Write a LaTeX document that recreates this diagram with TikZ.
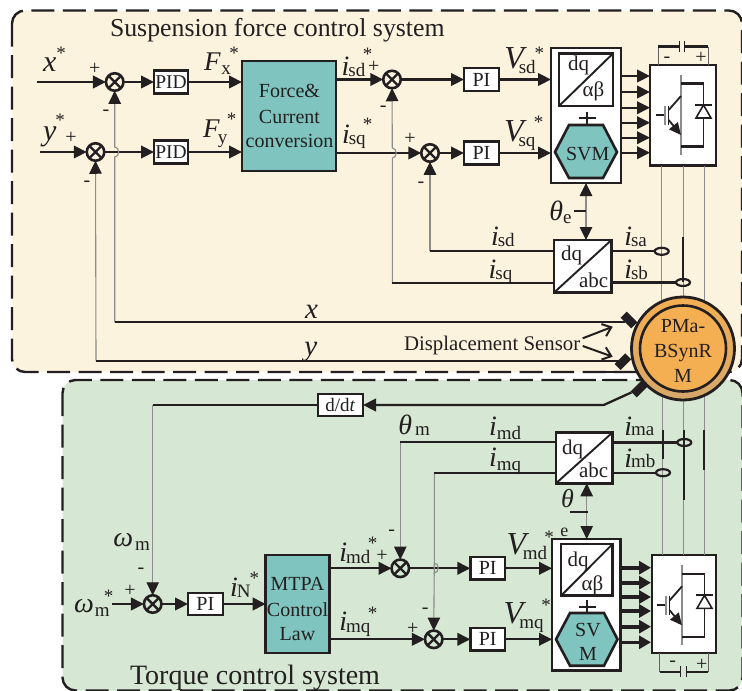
\documentclass[tikz,border=0pt]{standalone}
\usepackage{fontspec}
\setmainfont{Liberation Serif}
\usetikzlibrary{arrows.meta,shapes.geometric}
\definecolor{ink}{HTML}{231F20}
\definecolor{cream}{HTML}{FBF3DE}
\definecolor{sage}{HTML}{D6E7D3}
\definecolor{teal}{HTML}{7FC4BE}
\definecolor{orng}{HTML}{F4AF52}
\definecolor{tan}{HTML}{D6A76A}
\definecolor{wire}{HTML}{8C8C8C}
\tikzset{
 panel/.style={draw=ink,line width=2.4pt,rounded corners=13pt,dash pattern=on 23pt off 8.5pt},
 blk/.style={draw=ink,line width=2.4pt,fill=white,inner sep=0pt,outer sep=0pt,text=ink},
 tealblk/.style={blk,fill=teal,line width=2.7pt},
 sumn/.style={circle,draw=ink,line width=2.6pt,minimum size=17.5pt,inner sep=0pt,outer sep=0pt,fill=none,
   path picture={\draw[ink,line width=2.4pt] (path picture bounding box.north west)--(path picture bounding box.south east)
     (path picture bounding box.north east)--(path picture bounding box.south west);}},
 sig/.style={draw=ink,line width=2.3pt,-{Triangle[length=13pt,width=12.5pt,color=ink]}},
 fat/.style={draw=ink,line width=3.6pt,-{Triangle[length=12pt,width=13pt,color=ink]}},
 ln/.style={draw=ink,line width=2.3pt},
 thinw/.style={draw=wire,line width=1pt},
 fb/.style={draw=wire,line width=1.1pt,-{Triangle[length=13pt,width=12.5pt,color=ink]}},
 barb/.style={draw=ink,line width=2pt,-{Straight Barb[length=8pt,width=13pt]}},
 lb/.style={anchor=base west,inner sep=0pt,outer sep=0pt,text=ink},
 ctr/.style={anchor=base,inner sep=0pt,outer sep=0pt,text=ink},
 ringn/.style={ellipse,draw=ink,line width=2.2pt,minimum width=14pt,minimum height=7pt,inner sep=0pt,outer sep=0pt},
 sensor/.style={fill=ink,minimum width=15pt,minimum height=8.5pt,inner sep=0pt},
 box20/.style={font=\fontsize{20}{20}\selectfont},
 box19/.style={font=\fontsize{19.5}{19.5}\selectfont},
}
% name, x, y(baseline), main size, main, gap, drop, sub
\newcommand{\lbl}[8]{\node[lb] (#1) at (#2,#3) {\fontsize{#4}{#4}\selectfont\itshape #5\upshape\hspace{#6pt}\raisebox{-#7pt}{\fontsize{19}{19}\selectfont #8}};}
\newcommand{\stn}[3]{\node[ctr,font=\fontsize{19}{19}\selectfont] (#1) at ([yshift=-9pt]#2,#3) {*};}
\newcommand{\pln}[3]{\node[ctr,font=\fontsize{20}{20}\selectfont] (#1) at ([yshift=-5pt]#2,#3) {+};}
\newcommand{\mnn}[3]{\node[ctr,font=\fontsize{20}{20}\selectfont] (#1) at ([yshift=-4.4pt]#2,#3) {-};}
\newcommand{\txt}[5]{\node[lb,font=\fontsize{#4}{#4}\selectfont] (#1) at (#2,#3) {#5};}
\newcommand{\igbt}{%
 \draw[draw=wire,line width=1.4pt] (681,75)--(681,155);
 \draw[ink,line width=2.2pt] (681,83.5)--(703.7,83.5) (681,146.5)--(703.7,146.5);
 \draw[ink,line width=1pt] (703.7,83.5)--(703.7,146.5);
 \draw[ink,line width=2.2pt] (656,115)--(664,115);
 \draw[draw=wire,line width=1.2pt] (665,106)--(665,125);
 \draw[ink,line width=1.4pt] (668.7,106)--(668.7,125);
 \draw[ink,line width=1.8pt] (668.7,110)--(681,96);
 \draw[ink,line width=1.8pt,-{Triangle[length=12pt,width=11pt,color=ink]}] (668.7,120)--(681,135);
 \draw[ink,line width=1.6pt,fill=white] (696,118)--(711,118)--(703.5,105)--cycle;
 \draw[ink,line width=2.2pt] (695,105)--(712,105);
}
\begin{document}
\begin{tikzpicture}[x=1pt,y=-1pt]
\useasboundingbox (0,0) rectangle (742,691);
\fill[white] (0,0) rectangle (742,691);
% panels
\path[panel,fill=cream] (12,10.5) rectangle (742,372);
\path[panel,fill=sage] (62.5,380) rectangle (742.5,690.5);
\draw[ink,line width=2.4pt] (601,372)--(640,372) (602,380)--(622,380);

% ---------- upper system blocks
\node[sumn] (sx) at (114.7,82) {};
\node[sumn] (sy) at (95.5,152) {};
\node[sumn] (ssd) at (392,79.5) {};
\node[sumn] (ssq) at (430,153) {};
\node[blk,box19,minimum width=34pt,minimum height=23pt] (pidx) at (171,82) {PID};
\node[blk,box19,minimum width=34pt,minimum height=23pt] (pidy) at (171,152) {PID};
\node[tealblk,minimum width=94pt,minimum height=110pt] (force) at (289,116) {};
\node[blk,box20,minimum width=35pt,minimum height=23pt] (pisd) at (481.5,79.5) {PI};
\node[blk,box20,minimum width=35pt,minimum height=23pt] (pisq) at (481.5,153) {PI};
\node[blk,line width=2.8pt,minimum width=70pt,minimum height=135pt] (bigS) at (586,115.5) {};
\node[blk,line width=2.8pt,minimum width=54pt,minimum height=52.5pt] (dqS) at (586,79.75) {};
\draw[ink,line width=1.9pt] (dqS.south west)--(dqS.north east);
\node[blk,minimum width=66pt,minimum height=100.5pt] (invS) at (683,115.25) {};
\node[blk,line width=2.8pt,minimum width=57.5pt,minimum height=52.6pt] (abcS) at (582.75,266.3) {};
\draw[ink,line width=1.9pt] (abcS.south west)--(abcS.north east);
\draw[ink,line width=2.6pt,fill=teal] (555,152)--(569,125)--(603,125)--(617,152)--(603,178)--(569,178)--cycle;
\begin{scope}\igbt\end{scope}

\coordinate (inx) at (37,82);
\coordinate (iny) at (40,152);
\draw[sig] (inx)--(sx);
\draw[sig] (iny)--(sy);
\draw[sig] (sx)--(pidx);
\draw[sig] (sy)--(pidy);
\draw[sig] (pidx)--(force.west|-pidx);
\draw[sig] (pidy)--(force.west|-pidy);
\draw[sig] (force.east|-ssd)--(ssd);
\draw[sig] (force.east|-ssq)--(ssq);
\draw[sig] (ssd)--(pisd);
\draw[sig] (ssq)--(pisq);
\draw[sig] (pisd)--(bigS.west|-pisd);
\draw[sig] (pisq)--(bigS.west|-pisq);
\foreach \yy in {76,92,107.7,122.7,137.7,152.7}
  \draw[sig] (621,\yy)--(650,\yy);
% dq to hexagon link
\coordinate (lnkS) at (587,125);
\draw[ink,line width=2.2pt] (587,112)--(lnkS) (579,118)--(596,118);

% feedback
\coordinate (xl) at (114.7,322.3);
\coordinate (yl) at (96,360.7);
\coordinate (sdl) at (430,251.3);
\coordinate (sql) at (392.3,283);
\draw[fb] (yl)--(sy);
\draw[fb] (xl)--(114.7,157) .. controls (120,157) and (120,147) .. (114.7,147)--(sx);
\draw[fb] (sdl)--(ssq);
\draw[fb] (sql)--(392.3,158) .. controls (397.5,158) and (397.5,148) .. (392.3,148)--(ssd);
\draw[ln] (sdl)--(abcS.west|-sdl);
\draw[ln] (sql)--(abcS.west|-sql);
% sensors
\node[sensor,rotate=-45] (sen1) at (629,320) {};
\node[sensor,rotate=45] (sen2) at (623,361.7) {};
\node[sensor,rotate=45] (sen3) at (639,389) {};
\draw[ln] (xl)--(625,322.3);
\draw[ln] (yl)--(620,360.7);
% theta e
\coordinate (thE) at (586,211);
\draw[fb] (thE)--(bigS.south-|thE);
\draw[fb] (thE)--(abcS.north-|thE);
\draw[ln] (574,211)--(thE);

% ---------- lower system blocks
\node[sumn] (sw) at (152.7,604) {};
\node[sumn] (smd) at (400.3,568.3) {};
\node[sumn] (smq) at (433.7,639.3) {};
\node[blk,box20,minimum width=34.7pt,minimum height=22.3pt] (piw) at (205.35,604) {PI};
\node[tealblk,minimum width=63.6pt,minimum height=98pt] (mtpa) at (297.5,604) {};
\node[blk,box20,minimum width=34.7pt,minimum height=22.3pt] (pimd) at (487.65,568.3) {PI};
\node[blk,box20,minimum width=34.7pt,minimum height=22.3pt] (pimq) at (487.65,639.3) {PI};
\node[blk,line width=2.8pt,minimum width=68.3pt,minimum height=131.7pt] (bigB) at (586.15,604.85) {};
\node[blk,line width=2.8pt,minimum width=51.6pt,minimum height=51.7pt] (dqB) at (586.8,569.85) {};
\draw[ink,line width=1.9pt] (dqB.south west)--(dqB.north east);
\node[blk,minimum width=64.3pt,minimum height=98pt] (invB) at (683.85,604) {};
\node[blk,line width=2.8pt,minimum width=56.7pt,minimum height=51pt] (abcB) at (584.35,457.8) {};
\draw[ink,line width=1.9pt] (abcB.south west)--(abcB.north east);
\node[blk,minimum width=45.3pt,minimum height=22pt,font=\fontsize{19}{19}\selectfont] (ddt) at (340.35,405) {d/d\textit{t}};
\draw[ink,line width=2.6pt,fill=teal] (556,639.3)--(570,613)--(604,613)--(617.5,639.3)--(604,665.7)--(570,665.7)--cycle;
\begin{scope}[shift={(1,490.3)}]\igbt\end{scope}

\coordinate (inw) at (111.7,604);
\draw[sig] (inw)--(sw);
\draw[sig] (sw)--(piw);
\draw[sig] (piw)--(mtpa.west|-piw);
\draw[sig] (mtpa.east|-smd)--(smd);
\draw[sig] (mtpa.east|-smq)--(smq);
\draw[sig] (smd)--(pimd);
\draw[sig] (smq)--(pimq);
\draw[sig] (pimd)--(bigB.west|-pimd);
\draw[sig] (pimq)--(bigB.west|-pimq);
\foreach \yy in {567.7,582.7,597,611,626.7,642.3}
  \draw[fat] (621,\yy)--(651,\yy);
\coordinate (lnkB) at (587,613);
\draw[ink,line width=2.2pt] (587,600)--(lnkB) (579,607)--(596,607);

% speed
\coordinate (bend) at (603.7,405);
\coordinate (wl) at (152.7,405);
\draw[sig] (sen3)--(bend)--(ddt);
\draw[ln] (ddt)--(wl);
\draw[fb] (wl)--(sw);
% md mq feedback
\coordinate (mdl) at (400.3,441.7);
\coordinate (mql) at (434.3,472.7);
\draw[fb] (mdl)--(smd);
\draw[fb] (mql)--(434.3,573) .. controls (439.5,573) and (439.5,563) .. (434.3,563)--(smq);
\draw[ln] (mdl)--(abcB.west|-mdl);
\draw[ln] (mql)--(abcB.west|-mql);
% theta
\coordinate (thB) at (586.7,511.7);
\draw[fb] (thB)--(abcB.south-|thB);
\draw[fb] (thB)--(bigB.north-|thB);
\draw[ln] (570,511.7)--(588,511.7);

% phase wires
\coordinate (wa) at (661.5,300);
\coordinate (wb) at (683,300);
\coordinate (wc) at (704.5,300);
\draw[thinw] (invS.south-|wa)--(wa) (invS.south-|wb)--(wb) (invS.south-|wc)--(wc);
\coordinate (wd) at (662.7,395);
\coordinate (we) at (683.7,395);
\coordinate (wf) at (704.3,395);
\draw[thinw] (wd)--(invB.north-|wd) (we)--(invB.north-|we) (wf)--(invB.north-|wf);
\draw[ink,line width=2pt] (683,237)--(683,282) (662.7,430)--(662.7,459) (683.7,430)--(683.7,500) (704.3,430)--(704.3,470);
% current rings
\node[ringn] (rsa) at (661.7,251.3) {};
\node[ringn] (rsb) at (683,282.5) {};
\node[ringn] (rma) at (684.3,442.5) {};
\node[ringn] (rmb) at (663,472.7) {};
\draw[ln] (abcS.east|-rsa)--(rsa);
\draw[ln] (abcS.east|-rsb)--(rsb);
\draw[ln] (abcB.east|-rma)--(rma);
\draw[ln] (abcB.east|-rmb)--(rmb);

% motor
\node[circle,draw=ink,line width=2.8pt,top color=orng,bottom color=tan,minimum size=103pt,inner sep=0pt] (mot) at (683,348.5) {};
\node[circle,draw=ink,line width=2.6pt,fill=orng,minimum size=86pt,inner sep=0pt] (moti) at (683,348.5) {};
\node[align=center,inner sep=0pt,text=ink,font=\fontsize{20}{25}\selectfont] (mott) at (683,351) {PMa-\\BSynR\\M};

% displacement sensor
\node[lb,font=\fontsize{20.8}{20.8}\selectfont] (dsn) at (404,350) {Displacement Sensor};
\coordinate (ds1) at (582.7,338.3);
\coordinate (ds2) at (582.7,346);
\coordinate (dt1) at (612.7,326.7);
\coordinate (dt2) at (612.7,356.7);
\draw[barb] (ds1)--(dt1);
\draw[barb] (ds2)--(dt2);

% ---------- texts
\txt{t1}{110}{36.7}{25.8}{Suspension force control system}
\txt{t2}{130}{684}{28}{Torque control system}
\node[ctr,font=\fontsize{20}{20}\selectfont] (f1) at (289.5,97) {Force\&};
\node[ctr,font=\fontsize{20}{20}\selectfont] (f2) at (289.5,123) {Current};
\node[ctr,font=\fontsize{20}{20}\selectfont] (f3) at (289.5,147.7) {conversion};
\node[ctr,font=\fontsize{20}{20}\selectfont] (m1) at (297.5,590) {MTPA};
\node[ctr,font=\fontsize{20}{20}\selectfont] (m2) at (297.5,616) {Control};
\node[ctr,font=\fontsize{20}{20}\selectfont] (m3) at (297.5,640.7) {Law};
\node[ctr,font=\fontsize{20}{20}\selectfont] (svm) at (587.7,160) {SVM};
\node[ctr,font=\fontsize{20}{20}\selectfont] (sv) at (588,636) {SV};
\node[ctr,font=\fontsize{20}{20}\selectfont] (sm) at (588,660) {M};
\txt{dq1}{568}{70}{21}{dq}
\txt{ab1}{582.7}{96.7}{21}{αβ}
\txt{dq2}{561}{260.7}{21}{dq}
\txt{ab2}{579}{287}{21}{abc}
\txt{dq3}{562}{454}{21}{dq}
\txt{ab3}{579}{477.3}{21}{abc}
\txt{dq4}{567.7}{566}{21}{dq}
\txt{ab4}{581.7}{590.7}{21}{αβ}

\node[lb,font=\fontsize{30}{30}\selectfont\itshape] (lx) at (43,71) {x};
\stn{sx1}{61}{50}
\node[lb,font=\fontsize{30}{30}\selectfont\itshape] (ly) at (43,140) {y};
\stn{sx2}{60}{117}
\node[ctr,font=\fontsize{29}{29}\selectfont\itshape] (lxf) at (311.6,318) {x};
\node[ctr,font=\fontsize{29}{29}\selectfont\itshape] (lyf) at (310.7,355) {y};

\lbl{lfx}{204}{70.7}{27}{F}{1}{4}{x}\stn{s1}{234}{50}
\lbl{lfy}{203}{137.7}{27}{F}{-1.5}{5.5}{y}\stn{s2}{231.7}{116.7}
\lbl{lisd}{341.7}{75}{28}{i}{-1}{1}{sd}\stn{s3}{367.7}{51.7}
\lbl{lisq}{342}{143.3}{28}{i}{-1}{1}{sq}\stn{s4}{367.7}{121.7}
\lbl{lvd}{504.3}{68.3}{32}{V}{-5}{5}{sd}\stn{s5}{539.3}{50}
\lbl{lvq}{504}{141.7}{32}{V}{-5}{5}{sq}\stn{s6}{538.7}{119}
\lbl{lfsd}{491}{245}{28}{i}{-1}{1.5}{sd}
\lbl{lfsq}{488.7}{278.3}{28}{i}{-1}{1.5}{sq}
\lbl{lsa}{624.3}{245}{28}{i}{-1}{1}{sa}
\lbl{lsb}{624.3}{278.3}{28}{i}{-1}{1}{sb}
\lbl{lthe}{549.3}{220.7}{28}{θ}{0}{3}{e}
\lbl{lthm}{398.3}{434}{28}{θ}{3}{1}{m}
\lbl{lmd}{489}{435}{28}{i}{0}{4}{md}
\lbl{lmq}{489}{466.7}{28}{i}{0}{4}{mq}
\lbl{lma}{624.3}{435}{28}{i}{-1}{0}{ma}
\lbl{lmb}{624.3}{467.3}{28}{i}{-1}{0}{mb}
\node[lb,font=\fontsize{26}{26}\selectfont\itshape] (lth) at (561,507) {θ};
\node[ctr,font=\fontsize{18}{18}\selectfont] (lte) at (564.3,536) {e};
\lbl{lvmd}{506.7}{554}{32}{V}{-3.5}{5}{md}\stn{s7}{549}{534}
\lbl{lvmq}{503.7}{623.3}{32}{V}{-4}{5}{mq}\stn{s8}{546}{602.7}
\lbl{limd}{339.3}{561.7}{28}{i}{-1}{2}{md}\stn{s9}{372.7}{540}
\lbl{limq}{339.3}{630}{28}{i}{-1}{2}{mq}\stn{s10}{372.7}{610}
\lbl{lin}{230}{596.7}{28}{i}{-1}{1}{N}\stn{s11}{254.3}{575}
\lbl{lwm}{113.3}{546.7}{28}{ω}{2}{4}{m}
\lbl{lwr}{74}{612.7}{28}{ω}{1}{4}{m}\stn{s12}{108.7}{593}

\pln{p1}{94.7}{69}\mnn{n1}{106}{111}
\pln{p2}{71}{138}\mnn{n2}{87}{182}
\pln{p3}{373.7}{67.7}\mnn{n3}{383.3}{107}
\pln{p4}{410}{139.3}\mnn{n4}{421}{183}
\pln{p5}{130}{591.7}\mnn{n5}{141}{569}
\pln{p6}{382}{556.7}\mnn{n6}{391.7}{531}
\pln{p7}{412.7}{629}\mnn{n7}{425.3}{609.3}

% dc terminals
\coordinate (ta) at (658,46.5);\coordinate (tb) at (679,46.5);\coordinate (tc) at (684,46.5);\coordinate (td) at (708,46.5);
\draw[thinw,draw=ink!70] (ta)--(invS.north-|ta) (td)--(invS.north-|td);
\draw[ln] (ta)--(tb) (tc)--(td);
\draw[ink,line width=1pt] (679,41)--(679,52) (684,41)--(684,52);
\mnn{n8}{667}{58}\pln{p8}{701}{58}
\coordinate (tf) at (659.7,671.7);\coordinate (tg) at (680.3,671.7);\coordinate (th) at (686,671.7);\coordinate (ti) at (708,671.7);
\draw[thinw,draw=ink!70] (tf)--(invB.south-|tf) (ti)--(invB.south-|ti);
\draw[ln] (tf)--(tg) (th)--(ti);
\draw[ink,line width=1pt] (680.3,666)--(680.3,677) (686,666)--(686,677);
\mnn{n9}{672.7}{662}\pln{p9}{701.7}{665}
\end{tikzpicture}
\end{document}
